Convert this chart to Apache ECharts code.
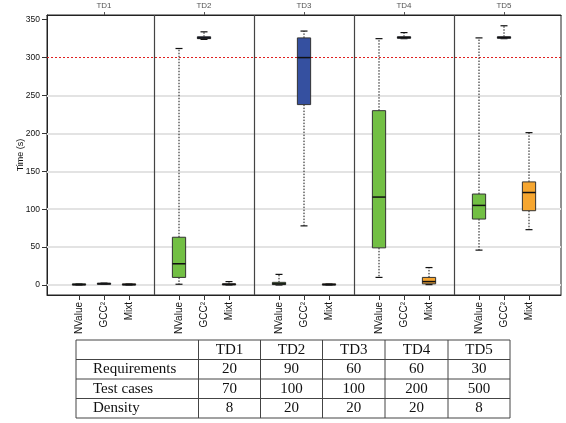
<!DOCTYPE html>
<html>
<head>
<meta charset="utf-8">
<script src="https://cdn.jsdelivr.net/npm/echarts@6/dist/echarts.min.js"></script>
<style>
  html, body { margin: 0; padding: 0; background: #fff; }
  #chart { width: 566px; height: 423px; }
</style>
</head>
<body>
<div id="chart"></div>
<script>
// data
const groups = ['TD1', 'TD2', 'TD3', 'TD4', 'TD5'];
const methods = ['NValue', 'GCC²', 'Mixt'];
// [min, q1, median, q3, max] per group
const nvalueStats = [[0, 0, 0.5, 1.5, 1.5], [1, 10, 28, 63, 312], [0, 0.5, 1.5, 3.5, 14], [10, 49, 116, 230, 325], [46, 87, 105, 120, 326]];
const gccStats = [[1, 1, 1.5, 2.5, 2.5], [324, 325, 326, 327.5, 334], [78, 238, 300, 326, 335], [325, 325.5, 326.5, 327.5, 333], [325, 325.5, 326.5, 327.5, 342]];
const mixtStats = [[0, 0, 0.5, 1.5, 1.5], [0, 0, 1, 1.5, 4.5], [0, 0, 0.5, 1.5, 1.5], [0.5, 1.5, 4.5, 10, 23], [73, 98, 122, 136, 201]];
const yTicks = [0, 50, 100, 150, 200, 250, 300, 350];
const gridValues = [0, 50, 100, 150, 200, 250];
const limitValue = 300;

// table under the chart
const tableRows = ['Requirements', 'Test cases', 'Density'];
const requirements = [20, 90, 60, 60, 30];
const testCases = [70, 100, 100, 200, 500];
const density = [8, 20, 20, 20, 8];

const colors = ['#72bf44', '#3550a0', '#f6a630'];
const allStats = [nvalueStats, gccStats, mixtStats];

// positions: 1,2,3 | 5,6,7 | 9,10,11 ...
const pos = (g, m) => g * 4 + m + 1;
const bottomTicks = [];
const bottomNames = {};
groups.forEach((g, gi) => methods.forEach((m, mi) => {
    bottomTicks.push(pos(gi, mi));
    bottomNames[pos(gi, mi)] = m;
}));
const topTicks = groups.map((g, gi) => pos(gi, 1));
const dividers = [4, 8, 12, 16];

function renderBox(params, api) {
    const x = api.value(0);
    const lo = api.coord([x, api.value(1)]);
    const q1 = api.coord([x, api.value(2)]);
    const md = api.coord([x, api.value(3)]);
    const q3 = api.coord([x, api.value(4)]);
    const hi = api.coord([x, api.value(5)]);
    const bw = api.size([0.53, 0])[0];
    const cw = api.size([0.28, 0])[0];
    const cx = md[0];
    const dash = { stroke: '#111', lineWidth: 1, lineDash: [1.5, 1.5] };
    const solid = { stroke: '#111', lineWidth: 1.2 };
    return {
        type: 'group',
        children: [
            { type: 'line', shape: { x1: cx, y1: q3[1], x2: cx, y2: hi[1] }, style: dash },
            { type: 'line', shape: { x1: cx, y1: q1[1], x2: cx, y2: lo[1] }, style: dash },
            { type: 'line', shape: { x1: cx - cw / 2, y1: hi[1], x2: cx + cw / 2, y2: hi[1] }, style: solid },
            { type: 'line', shape: { x1: cx - cw / 2, y1: lo[1], x2: cx + cw / 2, y2: lo[1] }, style: solid },
            { type: 'rect', shape: { x: cx - bw / 2, y: q3[1], width: bw, height: q1[1] - q3[1] },
              style: { fill: api.visual('color'), stroke: '#333', lineWidth: 1 } },
            { type: 'line', shape: { x1: cx - bw / 2, y1: md[1], x2: cx + bw / 2, y2: md[1] },
              style: { stroke: '#111', lineWidth: 1.5 } }
        ]
    };
}

const boxSeries = methods.map((m, mi) => ({
    name: m,
    type: 'custom',
    renderItem: renderBox,
    itemStyle: { color: colors[mi] },
    z: 5,
    silent: true,
    data: allStats[mi].map((s, gi) => [pos(gi, mi)].concat(s))
}));

// table built with graphic elements
const colEdges = [76, 198.5, 260.5, 322.5, 385, 448, 510];
const rowEdges = [340, 359.5, 379, 398.5, 418];
const tableFont = '15px "Liberation Serif", "DejaVu Serif", serif';
const tableGraphic = [];
colEdges.forEach(x => tableGraphic.push({
    type: 'line', shape: { x1: x, y1: rowEdges[0], x2: x, y2: rowEdges[rowEdges.length - 1] },
    style: { stroke: '#444', lineWidth: 1 }
}));
rowEdges.forEach(y => tableGraphic.push({
    type: 'line', shape: { x1: colEdges[0], y1: y, x2: colEdges[colEdges.length - 1], y2: y },
    style: { stroke: '#444', lineWidth: 1 }
}));
const cellText = (txt, x, y, align) => ({
    type: 'text', x: x, y: y,
    style: { text: String(txt), font: tableFont, fill: '#111', align: align, verticalAlign: 'middle' }
});
groups.forEach((g, gi) => tableGraphic.push(cellText(g, (colEdges[gi + 1] + colEdges[gi + 2]) / 2, (rowEdges[0] + rowEdges[1]) / 2, 'center')));
[requirements, testCases, density].forEach((row, ri) => {
    const cy = (rowEdges[ri + 1] + rowEdges[ri + 2]) / 2;
    tableGraphic.push(cellText(tableRows[ri], colEdges[0] + 17, cy, 'left'));
    row.forEach((v, gi) => tableGraphic.push(cellText(v, (colEdges[gi + 1] + colEdges[gi + 2]) / 2, cy, 'center')));
});

const sans = '"Liberation Sans", Arial, sans-serif';
const chart = echarts.init(document.getElementById('chart'));
chart.setOption({
    animation: false,
    backgroundColor: '#fff',
    grid: { left: 47, right: 5, top: 15, bottom: 128, show: true, borderColor: '#222', borderWidth: 1 },
    xAxis: [{
        type: 'value', position: 'bottom', min: -0.28, max: 20.28,
        axisLine: { show: true, onZero: false, lineStyle: { color: '#222' } },
        axisTick: { show: true, length: 5, customValues: bottomTicks, lineStyle: { color: '#333' } },
        axisLabel: {
            customValues: bottomTicks, rotate: 90, margin: 7,
            formatter: v => bottomNames[v] || '',
            fontFamily: sans, fontSize: 10, color: '#111'
        },
        splitLine: { show: false }
    }, {
        type: 'value', position: 'top', min: -0.28, max: 20.28,
        axisLine: { show: true, onZero: false, lineStyle: { color: '#222' } },
        axisTick: { show: true, length: 3, customValues: topTicks, lineStyle: { color: '#555' } },
        axisLabel: {
            customValues: topTicks, margin: 5,
            formatter: v => groups[(v - 2) / 4] || '',
            fontFamily: sans, fontSize: 8, color: '#555'
        },
        splitLine: { show: false }
    }],
    yAxis: {
        type: 'value', min: -13.2, max: 356.2,
        name: 'Time (s)', nameLocation: 'middle', nameGap: 22, nameMoveOverlap: false,
        nameTextStyle: { fontFamily: sans, fontSize: 9, color: '#111' },
        axisLine: { show: true, onZero: false, lineStyle: { color: '#222' } },
        axisTick: { show: true, length: 5, customValues: yTicks, lineStyle: { color: '#333' } },
        axisLabel: { customValues: yTicks, margin: 7, fontFamily: sans, fontSize: 8.5, color: '#111' },
        splitLine: { show: false }
    },
    graphic: tableGraphic,
    series: [{
        type: 'line', data: [], silent: true, z: 1,
        markLine: {
            silent: true, symbol: 'none', label: { show: false },
            lineStyle: { color: '#e3e3e3', width: 2, type: 'solid' },
            data: gridValues.map(v => ({ yAxis: v }))
        }
    }, {
        type: 'line', data: [], silent: true, z: 2,
        markLine: {
            silent: true, symbol: 'none', label: { show: false },
            lineStyle: { color: '#e02020', width: 1, type: [2, 2] },
            data: [{ yAxis: limitValue }]
        }
    }, {
        type: 'line', data: [], silent: true, z: 3,
        markLine: {
            silent: true, symbol: 'none', label: { show: false },
            lineStyle: { color: '#444', width: 1.2, type: 'solid' },
            data: dividers.map(v => ({ xAxis: v }))
        }
    }].concat(boxSeries)
});
</script>
</body>
</html>
